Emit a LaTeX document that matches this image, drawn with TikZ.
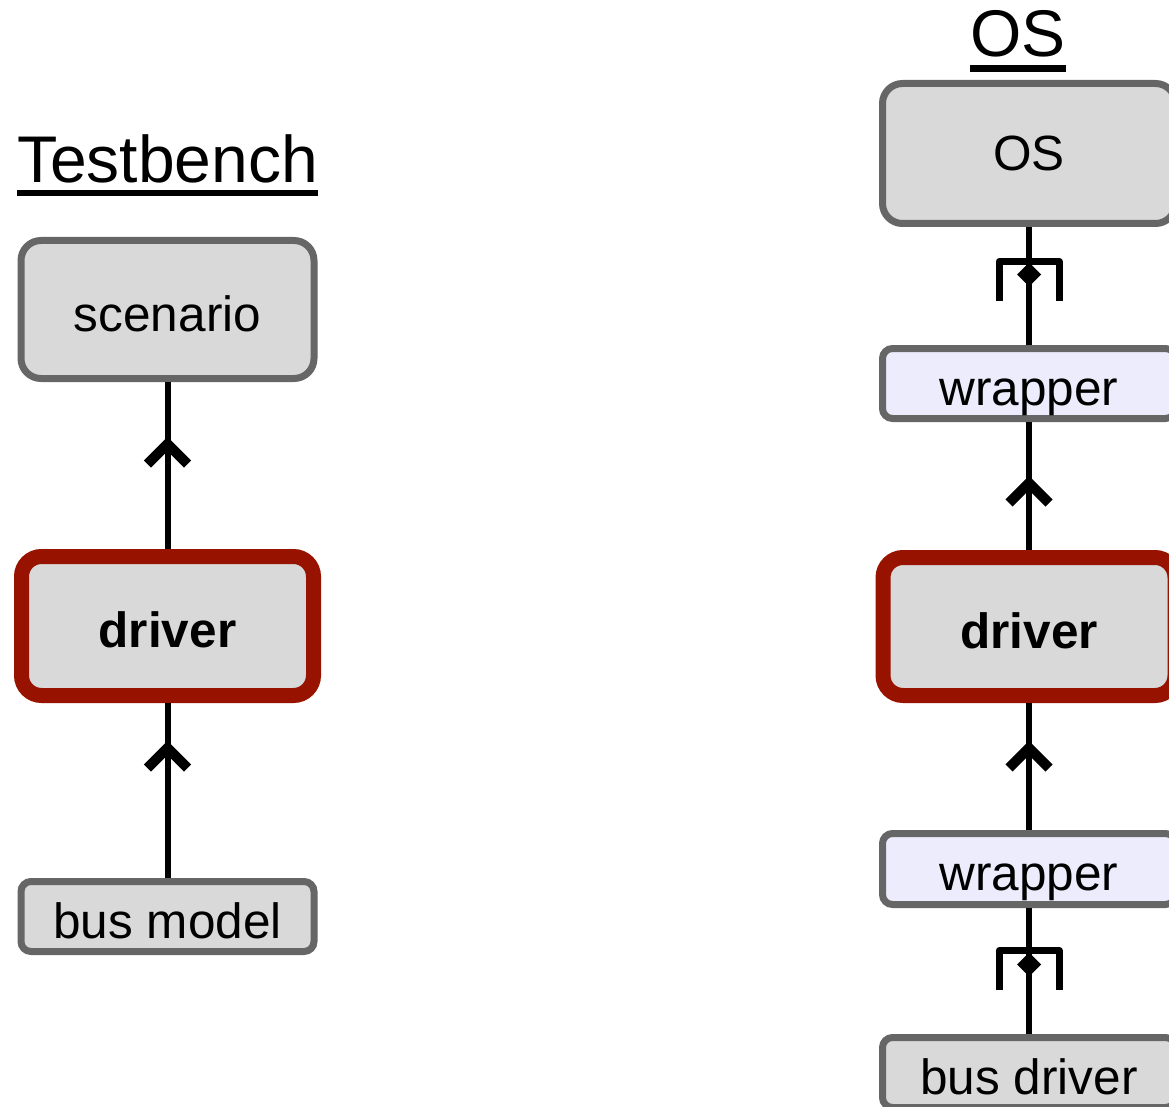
\documentclass[tikz,border=0pt]{standalone}
\usepackage{fontspec}
\setmainfont{Liberation Sans}
\definecolor{boxgrey}{RGB}{217,217,217}
\definecolor{edgegrey}{RGB}{102,102,102}
\definecolor{drvred}{RGB}{152,18,0}
\definecolor{wrapfill}{RGB}{236,236,253}
\begin{document}
\begin{tikzpicture}[x=1pt,y=-1pt,
  boxtext/.style={font=\fontsize{49.5}{58}\selectfont, text height=48pt, text depth=5pt, inner sep=0pt},
  bigbox/.style={boxtext, draw=edgegrey, line width=7pt, fill=boxgrey, rounded corners=20pt, minimum width=293pt},
  smallbox/.style={boxtext, draw=edgegrey, line width=7pt, fill=boxgrey, rounded corners=10pt, minimum width=293pt},
  wrapbox/.style={smallbox, fill=wrapfill},
  drvbox/.style={boxtext, draw=drvred, line width=15pt, fill=boxgrey, rounded corners=20pt, minimum width=292pt, font=\fontsize{49.5}{58}\selectfont\bfseries},
  title/.style={font=\fontsize{66}{78}\selectfont, inner sep=0pt, anchor=base},
  conn/.style={line width=6pt},
  chev/.pic={\draw[line width=10pt, miter limit=10] (-20,20) -- (0,0) -- (20,20);},
  brack/.pic={\draw[line width=7pt, line join=round] (-30,39) -- (-30,0) -- (30,0) -- (30,39);
              \fill (0,#1-12) -- (12,#1) -- (0,#1+12) -- (-12,#1) -- cycle;},
  brack/.default=13
]
\useasboundingbox (0,0) rectangle (1169,1107);
\clip (0,0) rectangle (1169,1107);

% titles
\node[title] (tb) at (167.5,183) {Testbench};
\draw[line width=6pt] ([yshift=-10pt]tb.base west) -- ([yshift=-10pt]tb.base east);
\node[title] (ost) at (1018,57) {OS};
\draw[line width=7pt] ([yshift=-11.5pt]ost.base west) -- ([yshift=-11.5pt]ost.base east);

% left column
\node[bigbox, minimum height=138pt] (scen) at (167.5,309.5) {scenario};
\node[drvbox, minimum height=139pt] (drvL) at (167.5,626) {driver};
\node[smallbox, minimum height=70pt] (busm) at (167.5,916.5) {bus model};

% right column
\node[bigbox, minimum height=140pt, text height=39pt] (os) at (1029,153.5) {OS};
\node[wrapbox, minimum height=70pt] (wr1) at (1029,383.5) {wrapper};
\node[drvbox, minimum height=138pt] (drvR) at (1029,626.5) {driver};
\node[wrapbox, minimum height=71pt] (wr2) at (1029,869) {wrapper};
\node[smallbox, minimum height=70pt] (busd) at (1029,1072.5) {bus driver};

% connectors
\draw[conn] (drvL.north) -- (scen.south);
\draw[conn] (busm.north) -- (drvL.south);
\draw[conn] (wr1.north) -- (os.south);
\draw[conn] (drvR.north) -- (wr1.south);
\draw[conn] (wr2.north) -- (drvR.south);
\draw[conn] (busd.north) -- (wr2.south);

% markers
\pic at (167.5,444) {chev};
\pic at (167.5,748) {chev};
\pic at (1029,483) {chev};
\pic at (1029,748) {chev};
\pic at (1029,261.5) {brack=13};
\pic at (1029,950.5) {brack=14};
\end{tikzpicture}
\end{document}
